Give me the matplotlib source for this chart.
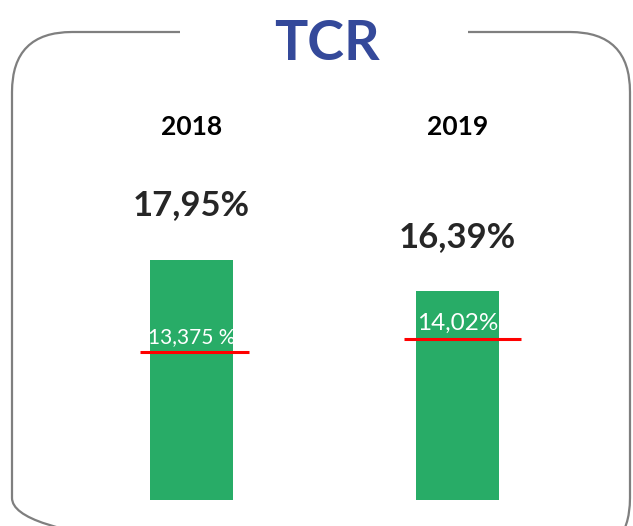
import numpy as np
import matplotlib.pyplot as plt
from matplotlib.patches import FancyBboxPatch, Rectangle

# data
years = ['2018', '2019']
tcr = [17.95, 16.39]
tcr_labels = ['17,95%', '16,39%']
ref = [13.375, 14.02]
ref_labels = ['13,375 %', '14,02%']

plt.rcParams['font.family'] = ['Lato', 'DejaVu Sans']

W, H = 633, 526
fig = plt.figure(figsize=(W / 100, H / 100), dpi=100)

# frame layer in pixel coordinates
frame = fig.add_axes([0, 0, 1, 1])
frame.set_xlim(0, W)
frame.set_ylim(H, 0)
frame.axis('off')
frame.add_patch(FancyBboxPatch((12, 32), 618, 526, boxstyle='round,pad=0,rounding_size=60',
                               fill=False, edgecolor='#7f7f7f', linewidth=1.6))
frame.add_patch(Rectangle((180, 25), 288, 14, facecolor='white', edgecolor='none'))
frame.text(327, 44, 'TCR', ha='center', va='center', fontsize=40, fontweight='bold', color='#34499A')

# bar chart layer
ax = fig.add_axes([0, 0, 1, 1])
ax.patch.set_alpha(0)
base = 6.04
scale = 20.19  # px per unit
ax.set_ylim(base - 26 / scale, base + 500 / scale)
x = np.arange(len(years))
ax.set_xlim(-191.5 / 266, (W - 191.5) / 266)
ax.axis('off')

vals = np.array(tcr)
ax.bar(x, vals - base, bottom=base, width=0.31, color='#28AC67')

lo = [-0.195, -0.20]
hi = [0.215, 0.24]
ref_size = [15, 17.5]
for i in range(len(years)):
    ax.hlines(ref[i], x[i] + lo[i], x[i] + hi[i], color='#FF0000', linewidth=2.2, zorder=3)
    ax.text(x[i], ref[i] + 0.26, ref_labels[i], ha='center', va='bottom', color='white',
            fontsize=ref_size[i])
    ax.text(x[i], vals[i] + 54 / scale, tcr_labels[i], ha='center', va='center',
            fontsize=25, fontweight='bold', color='#262626')
    ax.text(x[i], base + 373 / scale, years[i], ha='center', va='center',
            fontsize=19, fontweight='bold', color='black')

fig.savefig('out.png', dpi=100)
